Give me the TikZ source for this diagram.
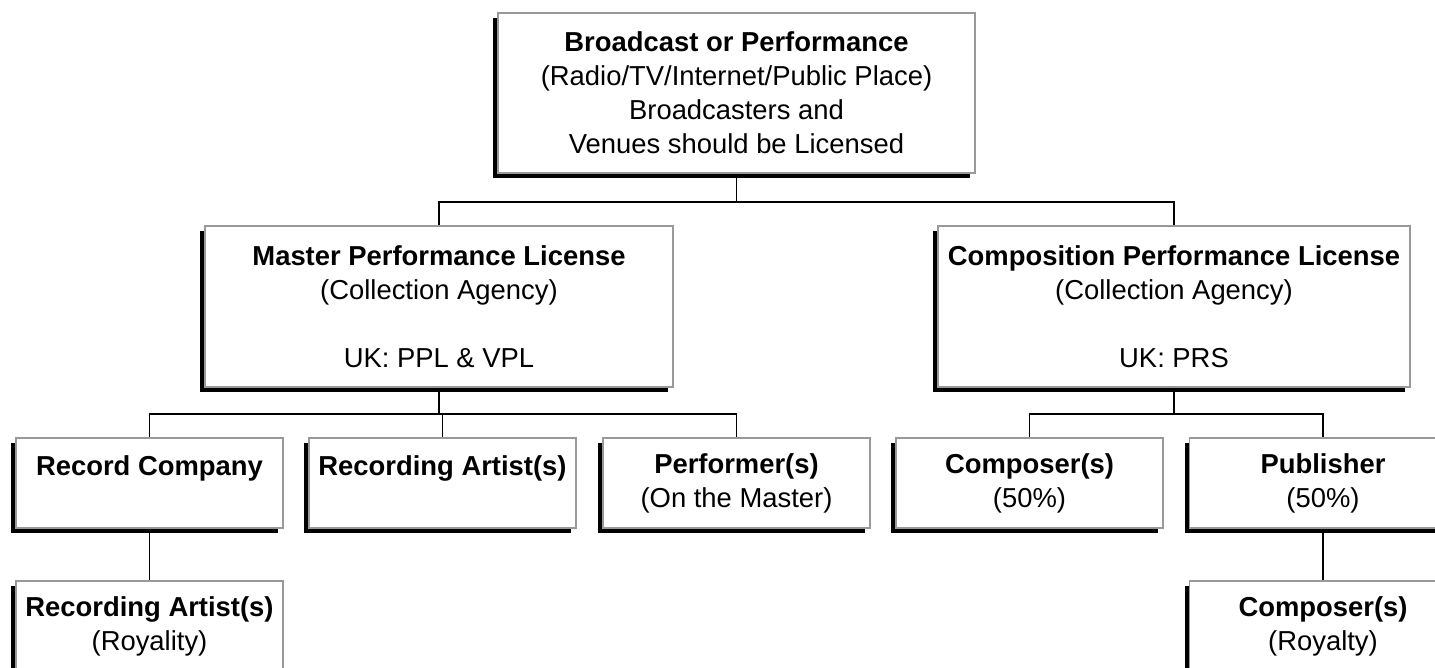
\documentclass[tikz,border=0pt]{standalone}
\usepackage{fontspec}
\setmainfont{Liberation Sans}
\usepackage{tikz}
\usetikzlibrary{shadows}

\tikzset{
    licbox/.style={draw=black!40, line width=0.75pt, fill=white, align=center, inner sep=0pt,
        font=\fontsize{13.7}{17}\selectfont,
        drop shadow={shadow xshift=-2.5pt, shadow yshift=-2.5pt, fill=black, opacity=1}},
    bigbox/.style={licbox, minimum height=80.5pt},
    smallbox/.style={licbox, minimum width=133.5pt, minimum height=45pt},
    link/.style={line width=0.65pt}
}

\begin{document}
\begin{tikzpicture}[x=0.5pt,y=-0.5pt]
        \useasboundingbox (0,0) rectangle (1435,668);
        \clip (0,0) rectangle (1435,668);
        % top of the tree
        \node[bigbox, minimum width=238.5pt, minimum height=80pt] (bcast) at (736.5,93)
            {\textbf{Broadcast or Performance}\\(Radio/TV/Internet/Public Place)\\Broadcasters and\\Venues should be Licensed};
        % the two licenses
        \node[bigbox, minimum width=234pt] (master) at (439,306.5)
            {\textbf{Master Performance License}\\(Collection Agency)\\[17pt]UK: PPL \& VPL};
        \node[bigbox, minimum width=236pt] (comp) at (1174,306.5)
            {\textbf{Composition Performance License}\\(Collection Agency)\\[17pt]UK: PRS};
        % who gets paid
        \node[smallbox] (record) at (149.5,483) {\textbf{Record Company}\\\mbox{}};
        \node[smallbox] (artist) at (442.5,483) {\textbf{Recording Artist(s)}\\\mbox{}};
        \node[smallbox] (performer) at (736.5,483) {\textbf{Performer(s)}\\(On the Master)};
        \node[smallbox] (composer) at (1029.5,483) {\textbf{Composer(s)}\\(50\%)};
        \node[smallbox] (publisher) at (1323,483) {\textbf{Publisher}\\(50\%)};
        \node[smallbox] (recroyal) at (149.5,626) {\textbf{Recording Artist(s)}\\(Royality)};
        \node[smallbox] (comroyal) at (1323,626) {\textbf{Composer(s)}\\(Royalty)};
        % connectors
        \coordinate (j1) at (736.5,202);
        \coordinate (j2) at (439,414);
        \coordinate (j3) at (1174,414);
        \draw[link] (bcast.south) -- (j1);
        \draw[link] (master.north) |- (j1) -| (comp.north);
        \draw[link] (master.south) -- (j2);
        \draw[link] (record.north) |- (j2) -| (performer.north);
        \draw[link] (artist.north) -- (artist.north |- j2);
        \draw[link] (comp.south) -- (j3);
        \draw[link] (composer.north) |- (j3) -| (publisher.north);
        \draw[link] (record.south) -- (recroyal.north);
        \draw[link] (publisher.south) -- (comroyal.north);
    \end{tikzpicture}
\end{document}
